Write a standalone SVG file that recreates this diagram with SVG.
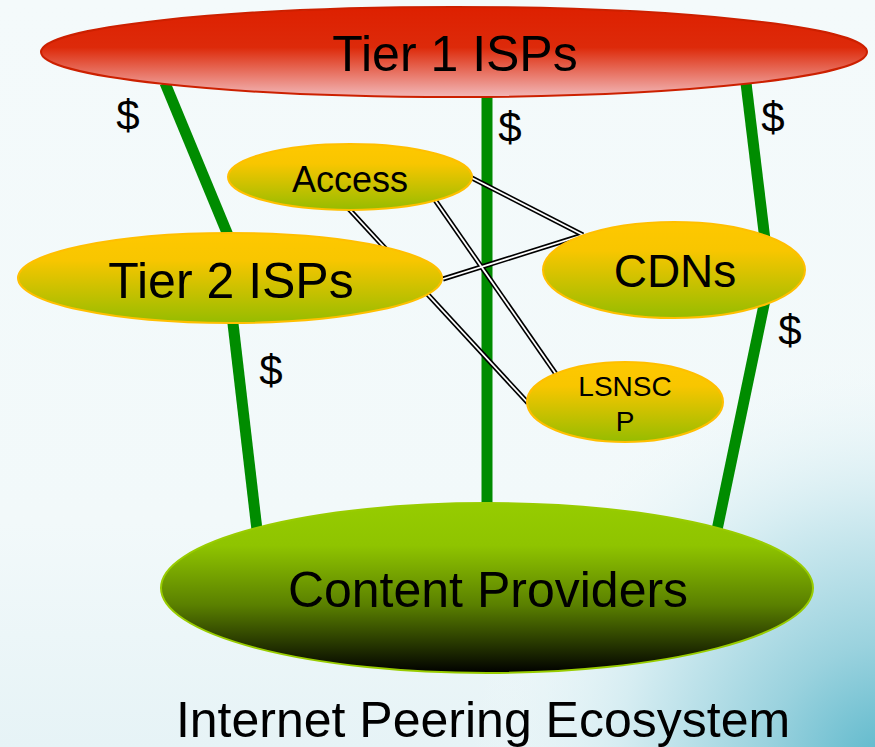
<svg xmlns="http://www.w3.org/2000/svg" width="875" height="747" viewBox="0 0 875 747">
<defs>
<linearGradient id="gRed" x1="0" y1="0" x2="0" y2="1">
<stop offset="0" stop-color="#dd2000"/>
<stop offset="0.45" stop-color="#dd2a0a"/>
<stop offset="1" stop-color="#f2b8b8"/>
</linearGradient>
<linearGradient id="gYel" x1="0" y1="0" x2="0" y2="1">
<stop offset="0" stop-color="#ffc800"/>
<stop offset="0.3" stop-color="#f8c600"/>
<stop offset="1" stop-color="#96bc00"/>
</linearGradient>
<linearGradient id="gGreen" x1="0" y1="0" x2="0" y2="1">
<stop offset="0" stop-color="#96cc00"/>
<stop offset="0.25" stop-color="#8fc400"/>
<stop offset="0.6" stop-color="#5a8000"/>
<stop offset="1" stop-color="#000000"/>
</linearGradient>
<radialGradient id="gBg" cx="890" cy="770" r="420" gradientUnits="userSpaceOnUse">
<stop offset="0" stop-color="#58b6ca"/>
<stop offset="0.3" stop-color="#9ad2de"/>
<stop offset="0.65" stop-color="#d6edf2"/>
<stop offset="1" stop-color="#f3fafb" stop-opacity="0"/>
</radialGradient>
<linearGradient id="gBg2" x1="0" y1="0" x2="0" y2="1">
<stop offset="0" stop-color="#f4fafb"/>
<stop offset="0.7" stop-color="#f2f9fa"/>
<stop offset="1" stop-color="#e6f3f6"/>
</linearGradient>
</defs>
<style>
.t{font-family:"Liberation Sans",Arial,sans-serif;fill:#000;text-anchor:middle}
.g{stroke:#008c00;stroke-width:11;fill:none}
.dbo{stroke:#000;stroke-width:5;fill:none}
.dbi{stroke:#fff;stroke-width:1.8;fill:none}
.y{fill:url(#gYel);stroke:#ffbf00;stroke-width:2}
</style>
<rect x="0" y="0" width="875" height="747" fill="url(#gBg2)"/>
<rect x="0" y="0" width="875" height="747" fill="url(#gBg)"/>
<g id="connectors">
<line class="g" x1="165" y1="83" x2="230" y2="240"/>
<line class="g" x1="232" y1="315" x2="257" y2="530"/>
<line class="g" x1="487" y1="90" x2="487" y2="506"/>
<line class="g" x1="746" y1="83" x2="765" y2="240"/>
<line class="g" x1="765" y1="300" x2="717" y2="530"/>
<g>
<line class="dbo" x1="470" y1="177" x2="583" y2="235"/>
<line class="dbo" x1="443" y1="279" x2="583" y2="235"/>
<line class="dbo" x1="348" y1="208" x2="528" y2="403"/>
<line class="dbo" x1="435" y1="200" x2="556" y2="374"/>
<line class="dbi" x1="470" y1="177" x2="583" y2="235"/>
<line class="dbi" x1="443" y1="279" x2="583" y2="235"/>
<line class="dbi" x1="348" y1="208" x2="528" y2="403"/>
<line class="dbi" x1="435" y1="200" x2="556" y2="374"/>
</g>
</g>
<g id="tier1">
<ellipse cx="454" cy="52" rx="413" ry="45" fill="url(#gRed)" stroke="#cc2000" stroke-width="2"/>
<text class="t" x="455" y="71" font-size="50">Tier 1 ISPs</text>
</g>
<g id="access">
<ellipse class="y" cx="350" cy="177" rx="122" ry="33"/>
<text class="t" x="350" y="192" font-size="36">Access</text>
</g>
<g id="tier2">
<ellipse class="y" cx="230" cy="278" rx="212" ry="45"/>
<text class="t" x="231" y="298" font-size="50">Tier 2 ISPs</text>
</g>
<g id="cdns">
<ellipse class="y" cx="674" cy="270" rx="131" ry="48"/>
<text class="t" x="675" y="287" font-size="46">CDNs</text>
</g>
<g id="lsnscp">
<ellipse class="y" cx="625" cy="402" rx="98" ry="40"/>
<text class="t" x="625" y="396" font-size="28">LSNSC</text>
<text class="t" x="625" y="431" font-size="28">P</text>
</g>
<g id="content">
<ellipse cx="487" cy="588" rx="326" ry="85" fill="url(#gGreen)" stroke="#99cc00" stroke-width="2"/>
<text class="t" x="488" y="607" font-size="50">Content Providers</text>
</g>
<g id="labels">
<text class="t" x="128" y="130" font-size="42">$</text>
<text class="t" x="510" y="142" font-size="42">$</text>
<text class="t" x="773" y="132" font-size="42">$</text>
<text class="t" x="790" y="345" font-size="42">$</text>
<text class="t" x="271" y="385" font-size="42">$</text>
<text class="t" x="483" y="737" font-size="50">Internet Peering Ecosystem</text>
</g>
</svg>
